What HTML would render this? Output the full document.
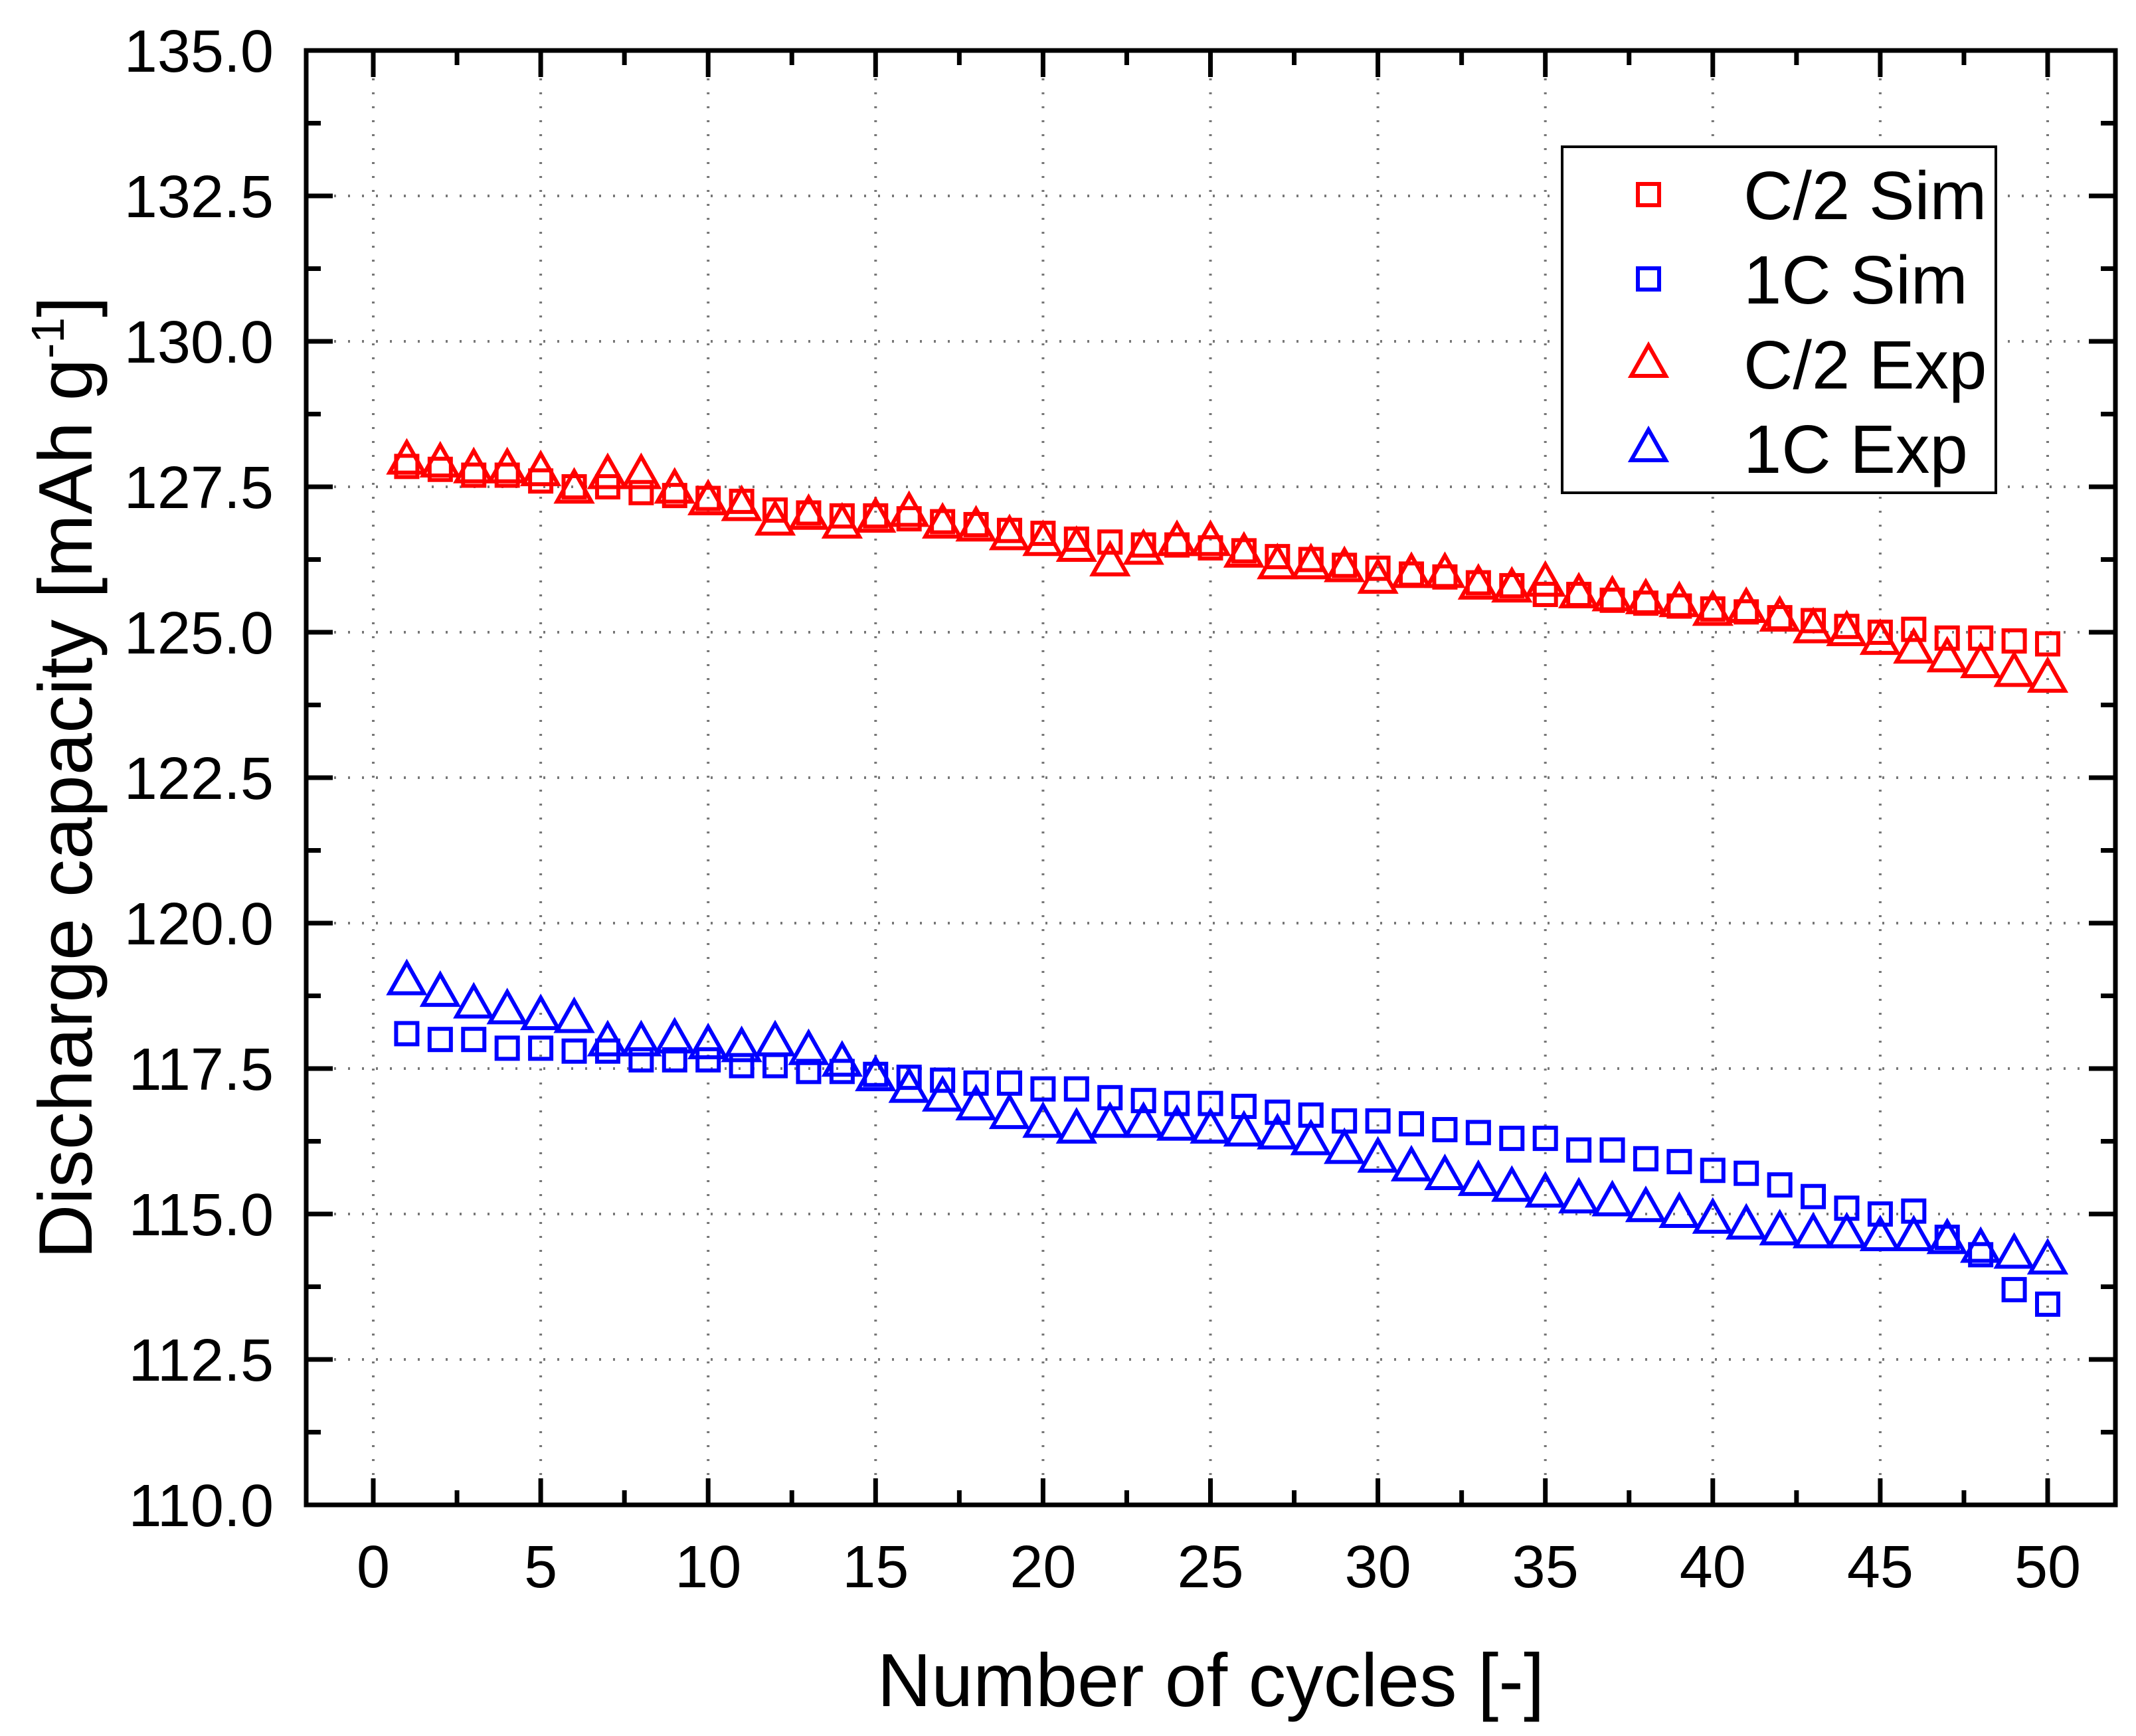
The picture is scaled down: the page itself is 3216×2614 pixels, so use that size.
<!DOCTYPE html>
<html><head><meta charset="utf-8"><style>
html,body{margin:0;padding:0;background:#fff;}
svg{display:block;font-family:"Liberation Sans",Arial,sans-serif;}
</style></head><body>
<svg id="chart" width="3216" height="2614" viewBox="0 0 3216 2614" xmlns="http://www.w3.org/2000/svg">
<rect width="3216" height="2614" fill="#fff"/>
<g id="grid"></g>
<g id="marks"></g>
<g id="axes"></g>
<text transform="translate(138,1171) rotate(-90)" text-anchor="middle" font-size="114" fill="#000">Discharge capacity [mAh g<tspan dy="-42" font-size="70">-1</tspan><tspan dy="42">]</tspan></text>
<text x="1823" y="2569" text-anchor="middle" font-size="113" fill="#000">Number of cycles [-]</text>
<g>
<rect x="2352" y="221" width="653" height="521" fill="#fff" stroke="#000" stroke-width="4"/>
<rect x="2466" y="277" width="32" height="32" fill="none" stroke="#f00" stroke-width="6"/>
<text x="2625" y="330" font-size="103">C/2 Sim</text>
<rect x="2466" y="404" width="32" height="32" fill="none" stroke="#00f" stroke-width="6"/>
<text x="2625" y="457" font-size="103">1C Sim</text>
<polygon points="2482,520 2508,566 2456,566" fill="none" stroke="#f00" stroke-width="6"/>
<text x="2625" y="585" font-size="103">C/2 Exp</text>
<polygon points="2482,647 2508,693 2456,693" fill="none" stroke="#00f" stroke-width="6"/>
<text x="2625" y="712" font-size="103">1C Exp</text>
</g>
</svg>
<script>
const cycles = Array.from({length:50},(_,i)=>i+1);
const c2Sim = [127.85,127.8,127.7,127.7,127.6,127.5,127.5,127.4,127.35,127.3,127.25,127.1,127.05,127.0,127.0,126.95,126.9,126.85,126.75,126.7,126.6,126.55,126.5,126.5,126.45,126.4,126.3,126.25,126.15,126.1,126.0,125.95,125.85,125.8,125.65,125.65,125.55,125.5,125.45,125.4,125.35,125.25,125.2,125.1,125.0,125.05,124.9,124.9,124.85,124.8];
const c2Exp = [127.95,127.9,127.8,127.8,127.75,127.45,127.7,127.7,127.45,127.25,127.15,126.9,127.0,126.85,126.95,127.05,126.85,126.8,126.65,126.55,126.45,126.2,126.4,126.55,126.55,126.35,126.15,126.15,126.1,125.9,126.0,126.0,125.8,125.75,125.85,125.65,125.6,125.55,125.5,125.35,125.4,125.25,125.05,125.0,124.85,124.7,124.55,124.45,124.3,124.2];
const c1Sim = [118.1,118.0,118.0,117.85,117.85,117.8,117.8,117.65,117.65,117.65,117.55,117.55,117.45,117.45,117.4,117.35,117.3,117.25,117.25,117.15,117.15,117.0,116.95,116.9,116.9,116.85,116.75,116.7,116.6,116.6,116.55,116.45,116.4,116.3,116.3,116.1,116.1,115.95,115.9,115.75,115.7,115.5,115.3,115.1,115.0,115.05,114.6,114.3,113.7,113.45];
const c1Exp = [119.0,118.8,118.6,118.5,118.4,118.35,117.95,117.95,118.0,117.9,117.85,117.95,117.8,117.6,117.35,117.15,117.0,116.85,116.7,116.55,116.45,116.55,116.55,116.5,116.45,116.4,116.35,116.25,116.1,115.95,115.8,115.65,115.55,115.45,115.35,115.25,115.2,115.1,115.0,114.9,114.8,114.7,114.65,114.65,114.6,114.6,114.55,114.4,114.3,114.2];
const xTicks = [0,5,10,15,20,25,30,35,40,45,50];
const yTicks = [110,112.5,115,117.5,120,122.5,125,127.5,130,132.5,135];

const L=461,R=3185,T=76,B=2266;
const X0=562,X50=3083;
function sx(v){return X0+(X50-X0)*v/50;}
function sy(v){return B-(B-T)*(v-110)/25;}
const NS="http://www.w3.org/2000/svg";
function mk(tag,attrs,parent){const e=document.createElementNS(NS,tag);for(const k in attrs)e.setAttribute(k,attrs[k]);parent.appendChild(e);return e;}
const grid=document.getElementById('grid'),axes=document.getElementById('axes'),marks=document.getElementById('marks');

xTicks.forEach(v=>{
  const g=mk('line',{x1:sx(v),x2:sx(v),y1:T,y2:B,stroke:'#777','stroke-width':4,'stroke-dasharray':'3 18'},grid);
  
  
});
yTicks.forEach(v=>{
  const g=mk('line',{x1:L,x2:R,y1:sy(v),y2:sy(v),stroke:'#777','stroke-width':4,'stroke-dasharray':'3 18'},grid);
  
  
});

function sq(x,y,c,parent){return mk('rect',{x:x-16,y:y-16,width:32,height:32,fill:'none',stroke:c,'stroke-width':6},parent);}
function tri(x,y,c,parent){return mk('polygon',{points:`${x},${y-28} ${x+26},${y+18} ${x-26},${y+18}`,fill:'none',stroke:c,'stroke-width':6},parent);}

const series=[[c2Sim,'#f00',sq,'c2-sim'],[c1Sim,'#00f',sq,'1c-sim'],[c2Exp,'#f00',tri,'c2-exp'],[c1Exp,'#00f',tri,'1c-exp']];
series.forEach(([arr,c,fn,name])=>{
  arr.forEach((v,i)=>{
    const e=fn(sx(cycles[i]),sy(v),c,marks);
    
    
  });
});

const fr=mk('rect',{x:L,y:T,width:R-L,height:B-T,fill:'none',stroke:'#000','stroke-width':7},axes);


for(let v=0;v<=50;v+=2.5){
  const major=v%5===0,len=major?40:22,x=sx(v);
  mk('line',{x1:x,x2:x,y1:B,y2:B-len,stroke:'#000','stroke-width':7},axes);
  mk('line',{x1:x,x2:x,y1:T,y2:T+len,stroke:'#000','stroke-width':7},axes);
}
for(let v=110;v<=135;v+=1.25){
  const major=Math.abs((v-110)/2.5-Math.round((v-110)/2.5))<1e-6,len=major?40:22,y=sy(v);
  mk('line',{x1:L,x2:L+len,y1:y,y2:y,stroke:'#000','stroke-width':7},axes);
  mk('line',{x1:R,x2:R-len,y1:y,y2:y,stroke:'#000','stroke-width':7},axes);
}
xTicks.forEach(v=>{
  const t=mk('text',{x:sx(v),y:2390,'text-anchor':'middle','font-size':90,fill:'#000'},axes);
  t.textContent=String(v);
  
  
});
yTicks.forEach(v=>{
  const t=mk('text',{x:412,y:sy(v)+32,'text-anchor':'end','font-size':90,fill:'#000'},axes);
  t.textContent=v.toFixed(1);
  
  
});
</script>
</body></html>
